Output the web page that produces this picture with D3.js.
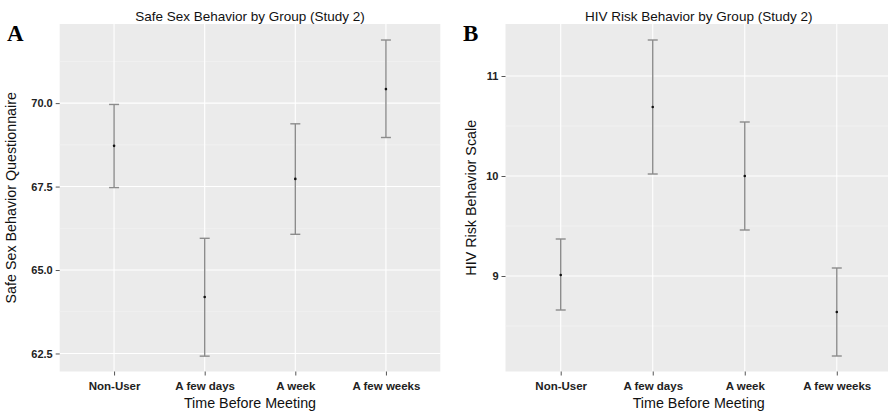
<!DOCTYPE html>
<html>
<head>
<meta charset="utf-8">
<script src="https://cdn.jsdelivr.net/npm/d3@7"></script>
<style>
  body { margin: 0; background: #fff; }
  svg { display: block; font-family: "Liberation Sans", Arial, sans-serif; }
</style>
</head>
<body>
<svg id="chart" width="888" height="411"></svg>
<script>
const groups = ["Non-User", "A few days", "A week", "A few weeks"];

// panel A: safe sex questionnaire
const safeMean  = [68.72, 64.19, 67.73, 70.42];
const safeLow   = [67.47, 62.42, 66.07, 68.97];
const safeHigh  = [69.96, 65.95, 69.38, 71.89];
const safeTicks = [62.5, 65.0, 67.5, 70.0];
const safeMinor = [63.75, 66.25, 68.75, 71.25];

// panel B: HIV risk scale
const hivMean  = [9.01, 10.69, 10.0, 8.64];
const hivLow   = [8.66, 10.02, 9.46, 8.20];
const hivHigh  = [9.37, 11.36, 10.54, 9.08];
const hivTicks = [9, 10, 11];
const hivMinor = [8.5, 9.5, 10.5];

const svg = d3.select("#chart");
const plotTop = 24, plotBottom = 371.5;

function drawPanel(o) {
  const g = svg.append("g");
  const w = o.right - o.left;

  // ggplot style discrete expansion (0.6 each side)
  const x = d3.scalePoint().domain(groups).range([o.left, o.right]).padding(0.6);
  const y = d3.scaleLinear().domain(o.domain).range([plotBottom, plotTop]);

  g.append("rect")
    .attr("x", o.left).attr("y", plotTop)
    .attr("width", w).attr("height", plotBottom - plotTop)
    .attr("fill", "#ebebeb");

  g.selectAll(".minor").data(o.minor).enter().append("line")
    .attr("x1", o.left).attr("x2", o.right)
    .attr("y1", d => y(d)).attr("y2", d => y(d))
    .attr("stroke", "#f5f5f5").attr("stroke-width", 0.6);

  g.selectAll(".major").data(o.ticks).enter().append("line")
    .attr("x1", o.left).attr("x2", o.right)
    .attr("y1", d => y(d)).attr("y2", d => y(d))
    .attr("stroke", "#fff").attr("stroke-width", 1.1);

  g.selectAll(".vgrid").data(groups).enter().append("line")
    .attr("x1", d => x(d)).attr("x2", d => x(d))
    .attr("y1", plotTop).attr("y2", plotBottom)
    .attr("stroke", "#fff").attr("stroke-width", 1.1);

  // axes
  const yAxis = d3.axisLeft(y).tickValues(o.ticks).tickFormat(o.fmt).tickSize(4).tickPadding(3);
  const ya = g.append("g").attr("transform", `translate(${o.left},0)`).call(yAxis);
  ya.select(".domain").remove();
  ya.selectAll(".tick line").attr("stroke", "#555");
  ya.selectAll(".tick text").attr("fill", "#222").style("font-size", "11px").style("font-weight", "bold");

  const xAxis = d3.axisBottom(x).tickSize(4).tickPadding(6);
  const xa = g.append("g").attr("transform", `translate(0,${plotBottom})`).call(xAxis);
  xa.select(".domain").remove();
  xa.selectAll(".tick line").attr("stroke", "#555");
  xa.selectAll(".tick text").attr("fill", "#222").style("font-size", "11.5px").style("font-weight", "bold");

  // error bars
  const capW = 5;
  const bars = g.selectAll(".bar").data(groups.map((d, i) => ({ g: d, m: o.mean[i], lo: o.low[i], hi: o.high[i] })))
    .enter().append("g");
  bars.append("line")
    .attr("x1", d => x(d.g)).attr("x2", d => x(d.g))
    .attr("y1", d => y(d.lo)).attr("y2", d => y(d.hi))
    .attr("stroke", "#8c8c8c").attr("stroke-width", 1.4);
  bars.append("line")
    .attr("x1", d => x(d.g) - capW).attr("x2", d => x(d.g) + capW)
    .attr("y1", d => y(d.hi)).attr("y2", d => y(d.hi))
    .attr("stroke", "#8c8c8c").attr("stroke-width", 1.4);
  bars.append("line")
    .attr("x1", d => x(d.g) - capW).attr("x2", d => x(d.g) + capW)
    .attr("y1", d => y(d.lo)).attr("y2", d => y(d.lo))
    .attr("stroke", "#8c8c8c").attr("stroke-width", 1.4);
  bars.append("circle")
    .attr("cx", d => x(d.g)).attr("cy", d => y(d.m))
    .attr("r", 1.3).attr("fill", "#111");

  // labels
  g.append("text")
    .attr("x", (o.left + o.right) / 2).attr("y", 21)
    .attr("text-anchor", "middle").style("font-size", "13.5px").attr("fill", "#111")
    .text(o.title);

  g.append("text")
    .attr("x", (o.left + o.right) / 2).attr("y", 408)
    .attr("text-anchor", "middle").style("font-size", "14.3px").attr("fill", "#111")
    .text("Time Before Meeting");

  g.append("text")
    .attr("transform", `translate(${o.ylabX},${(plotTop + plotBottom) / 2}) rotate(-90)`)
    .attr("text-anchor", "middle").style("font-size", "14.3px").attr("fill", "#111")
    .text(o.ylab);

  g.append("text")
    .attr("x", o.letterX).attr("y", 41)
    .style("font-family", "'Liberation Serif', 'Times New Roman', serif")
    .style("font-size", "23px").style("font-weight", "bold").attr("fill", "#000")
    .text(o.letter);
}

drawPanel({
  left: 59.7, right: 440.3, domain: [61.96, 72.37],
  mean: safeMean, low: safeLow, high: safeHigh,
  ticks: safeTicks, minor: safeMinor, fmt: d3.format(".1f"),
  title: "Safe Sex Behavior by Group (Study 2)",
  ylab: "Safe Sex Behavior Questionnaire", ylabX: 16,
  letter: "A", letterX: 7
});

drawPanel({
  left: 505.5, right: 892, domain: [8.045, 11.52],
  mean: hivMean, low: hivLow, high: hivHigh,
  ticks: hivTicks, minor: hivMinor, fmt: d3.format("d"),
  title: "HIV Risk Behavior by Group (Study 2)",
  ylab: "HIV Risk Behavior Scale", ylabX: 476,
  letter: "B", letterX: 463
});
</script>
</body>
</html>
